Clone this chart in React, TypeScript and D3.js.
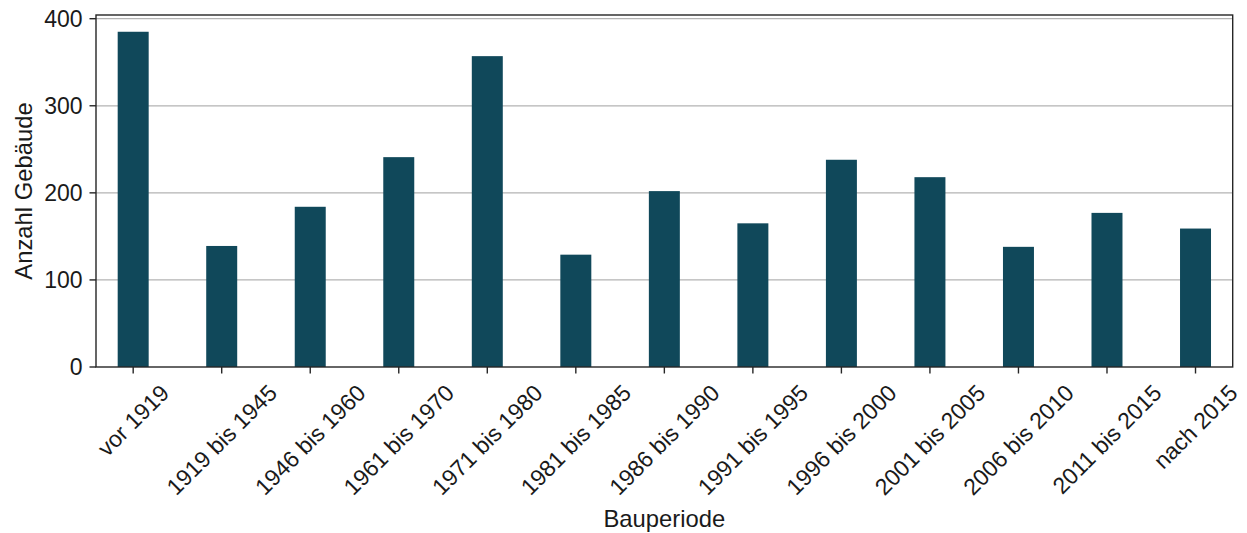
import React, { useEffect, useRef } from "react";
import * as d3 from "d3";

const categories = [
  "vor 1919",
  "1919 bis 1945",
  "1946 bis 1960",
  "1961 bis 1970",
  "1971 bis 1980",
  "1981 bis 1985",
  "1986 bis 1990",
  "1991 bis 1995",
  "1996 bis 2000",
  "2001 bis 2005",
  "2006 bis 2010",
  "2011 bis 2015",
  "nach 2015",
];
const values = [385, 139, 184, 241, 357, 129, 202, 165, 238, 218, 138, 177, 159];
const yTicks = [0, 100, 200, 300, 400];
const xTitle = "Bauperiode";
const yTitle = "Anzahl Gebäude";

const W = 1247;
const H = 533;
const M = { left: 96, right: 1232.7, top: 15, bottom: 367 };
const FONT = "'Liberation Sans', Arial, Helvetica, sans-serif";
const FS_TICK = 23;
const FS_TITLE = 23.8;

export default function App() {
  const ref = useRef<SVGSVGElement>(null);
  useEffect(() => {
    const svg = d3.select(ref.current);
    svg.selectAll("*").remove();
    const x = d3.scalePoint<string>().domain(categories).range([M.left, M.right]).padding(0.42);
    const y = d3
      .scaleLinear()
      .domain([0, (d3.max(values) as number) * 1.05])
      .range([M.bottom, M.top]);
    const bw = x.step() * 0.35;

    svg
      .append("g")
      .selectAll("line")
      .data(yTicks.filter((t) => t > 0))
      .join("line")
      .attr("x1", M.left)
      .attr("x2", M.right)
      .attr("y1", (d) => y(d))
      .attr("y2", (d) => y(d))
      .attr("stroke", "#b3b3b3")
      .attr("stroke-width", 1.2);

    svg
      .append("g")
      .selectAll("rect")
      .data(values)
      .join("rect")
      .attr("x", (d, i) => (x(categories[i]) as number) - bw / 2)
      .attr("width", bw)
      .attr("y", (d) => y(d))
      .attr("height", (d) => y(0) - y(d))
      .attr("fill", "#10485a");

    svg
      .append("rect")
      .attr("x", M.left)
      .attr("y", M.top)
      .attr("width", M.right - M.left)
      .attr("height", M.bottom - M.top)
      .attr("fill", "none")
      .attr("stroke", "#262626")
      .attr("stroke-width", 1.4);

    // y ticks
    const yg = svg.append("g");
    yTicks.forEach((t) => {
      yg.append("line")
        .attr("x1", M.left - 6.5)
        .attr("x2", M.left)
        .attr("y1", y(t))
        .attr("y2", y(t))
        .attr("stroke", "#262626")
        .attr("stroke-width", 1.4);
      yg.append("text")
        .attr("x", M.left - 13.5)
        .attr("y", y(t))
        .attr("text-anchor", "end")
        .attr("dominant-baseline", "central")
        .attr("font-family", FONT)
        .attr("font-size", FS_TICK)
        .attr("fill", "#1a1a1a")
        .text(String(t));
    });

    // x ticks
    const xg = svg.append("g");
    categories.forEach((c) => {
      const cx = x(c) as number;
      xg.append("line")
        .attr("x1", cx)
        .attr("x2", cx)
        .attr("y1", M.bottom)
        .attr("y2", M.bottom + 6.5)
        .attr("stroke", "#262626")
        .attr("stroke-width", 1.4);
      const t = xg
        .append("text")
        .attr("text-anchor", "middle")
        .attr("dominant-baseline", "central")
        .attr("font-family", FONT)
        .attr("font-size", FS_TICK)
        .attr("fill", "#1a1a1a")
        .text(c);
      const len = (t.node() as SVGTextElement).getComputedTextLength();
      const diag = (len + FS_TICK * 0.95) * Math.SQRT1_2;
      const cy = M.bottom + 14 + diag / 2;
      t.attr("transform", `translate(${cx},${cy}) rotate(-45)`);
    });

    svg
      .append("text")
      .attr("x", (M.left + M.right) / 2)
      .attr("y", 527)
      .attr("text-anchor", "middle")
      .attr("font-family", FONT)
      .attr("font-size", FS_TITLE)
      .attr("fill", "#1a1a1a")
      .text(xTitle);

    svg
      .append("text")
      .attr("transform", `translate(32,${(M.top + M.bottom) / 2}) rotate(-90)`)
      .attr("text-anchor", "middle")
      .attr("font-family", FONT)
      .attr("font-size", FS_TITLE)
      .attr("fill", "#1a1a1a")
      .text(yTitle);
  }, []);

  return (
    <svg
      ref={ref}
      width={W}
      height={H}
      viewBox={`0 0 ${W} ${H}`}
      style={{ position: "absolute", left: 0, top: 0, display: "block", background: "#fff" }}
    />
  );
}
